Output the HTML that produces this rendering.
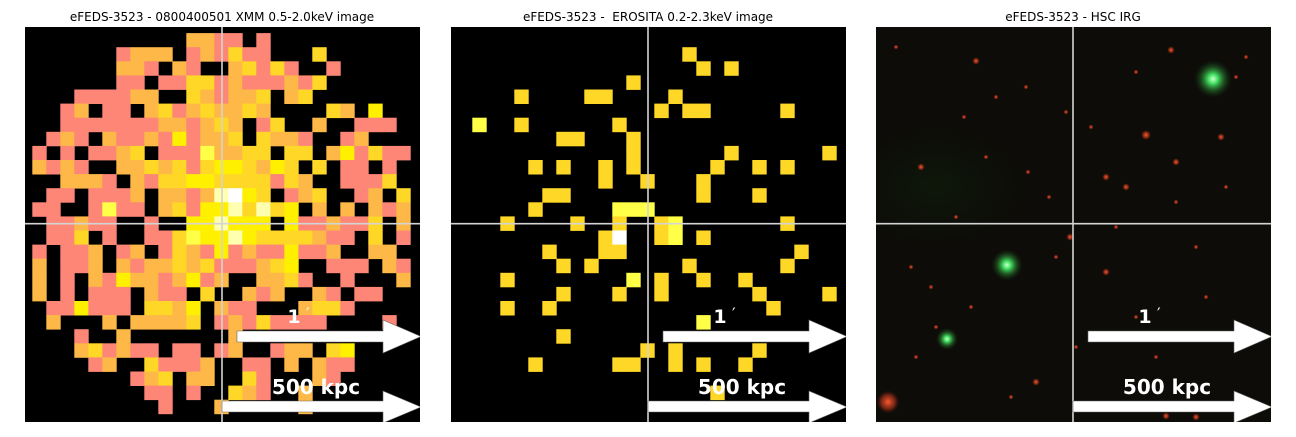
<!DOCTYPE html>
<html><head><meta charset="utf-8"><style>
html,body{margin:0;padding:0;background:#fff;}
svg text{font-family:"DejaVu Sans","Liberation Sans",sans-serif;}
</style></head><body>
<svg id="fig" width="1296" height="432" viewBox="0 0 1296 432" xmlns="http://www.w3.org/2000/svg">
<defs>
<radialGradient id="gGlow"><stop offset="0" stop-color="#d0ffd0"/><stop offset="0.25" stop-color="#40e060"/><stop offset="0.6" stop-color="#2a7a30" stop-opacity="0.6"/><stop offset="1" stop-color="#103010" stop-opacity="0"/></radialGradient>
<radialGradient id="rGlow"><stop offset="0" stop-color="#ff5a30"/><stop offset="0.6" stop-color="#a03018" stop-opacity="0.7"/><stop offset="1" stop-color="#401008" stop-opacity="0"/></radialGradient>
<radialGradient id="greenHaze"><stop offset="0" stop-color="#0f2a0c" stop-opacity="0.35"/><stop offset="1" stop-color="#0f2a0c" stop-opacity="0"/></radialGradient>
</defs>
<text x="222" y="21" font-size="12" text-anchor="middle" fill="#000">eFEDS-3523 - 0800400501 XMM 0.5-2.0keV image</text>
<text x="648" y="21" font-size="12" text-anchor="middle" fill="#000" xml:space="preserve">eFEDS-3523 -  EROSITA 0.2-2.3keV image</text>
<text x="1073" y="21" font-size="12" text-anchor="middle" fill="#000">eFEDS-3523 - HSC IRG</text>
<svg id="p1" x="25" y="27" width="395" height="395"><rect width="395" height="395" fill="#000"/><g id="p1cells"></g><g id="p1over"></g></svg>
<svg id="p2" x="451" y="27" width="395" height="395"><rect width="395" height="395" fill="#000"/><g id="p2cells"></g><g id="p2over"></g></svg>
<svg id="p3" x="876" y="27" width="395" height="395"><rect width="395" height="395" fill="#0d0c08"/><ellipse cx="60" cy="160" rx="90" ry="60" fill="url(#greenHaze)"/><g id="p3stars"></g><g id="p3over"></g></svg>
</svg>
<script>
// XMM counts map: level codes per pixel row (. black, s, o, g, y, Y, l, w)
const xmmRows = [
".............................",
"............ooss.s...........",
".......sooo.sosgss...g.......",
".......oos.os..ogsgs..s......",
".......ss.ssggsosssosg......",
"....ssssoo..gosoog.og........",
"...so.ss.ogsogoogo....go.y...",
"...sssssssoosogo.sg..o..sss..",
"..sos.ossosysoog.goos..so...",
".s.s.ssog.sssYoogg.gg.oysgss.",
".osos..oogogsgyygoyg.g.ss.s..",
"...ooos.osggyyggggsgo..sssg..",
"..ss.ssso.oosolwyg.sog..so.g.",
".ss..sYss.ogsyylglgy.o.o.oso.",
"..ssoss..s..yylyyy.yssossg.o.",
"..ssg.s..ssgYyylyggggoss.g.s..",
".s.sso.so.sgosysossysso..oo..",
".o.sso.osoogogsssogy..sss.os.",
".o.s.osyoosoyso..oogs..s...o.",
".o.s.sss.oss.g..oso..os.ss...",
"..ssysss.ggoy.oss...oggs.....",
"..o...o.oooog.sosgssss....s..",
"....s..o.......o.............",
"....ogsoss.ss.so..soo.gy.....",
".....so..gssso..ss.o.oss.....",
"........sog.oo..gs...os......",
".........ss.s..gos..o........",
"..........s...o.....o........",
"............................."
];
// eROSITA counts: [column, row, level]
const eroCols = [17,18,20,13,5,10,11,16,15,17,18,24,2,5,12,8,9,13,13,20,27,6,8,11,13,19,22,24,11,14,18,7,8,18,22,6,12,13,14,4,9,12,15,16,24,11,12,15,16,18,7,11,12,25,8,10,17,24,4,13,15,18,21,8,12,15,22,27,4,7,23,18,8,14,16,22,6,12,13,16,18,21,19];
const eroRows = [2,3,3,4,5,5,5,5,6,6,6,6,7,7,7,8,8,8,9,9,9,10,10,10,10,10,10,10,11,11,11,12,12,12,12,13,13,13,13,14,14,14,14,14,14,15,15,15,15,15,16,16,16,16,17,17,17,17,18,18,18,18,18,19,19,19,19,19,20,20,20,21,22,23,23,23,24,24,24,24,24,24,26];
const eroLevels = "ggggggggggggYgggggggggggggggggggggggYYYggggYggwgYggggggggggYgggggggggggYggggggggggg";
// HSC sources: x, y (panel px), radius, kind
const srcX = [337,131,71,295,100,45,173,152,194,250,270,370,230,55,12,290,210,160,260,330,300,20,120,320,280,240,60,360,190,345,35,215,135,88,400,110,80,180,230,300,350,260,150,40,200,370,320,95];
const srcY = [52,238,312,23,34,140,170,145,210,160,108,30,245,260,375,389,380,355,290,270,135,20,70,390,330,200,300,50,85,110,240,100,370,90,380,130,190,230,150,175,160,45,60,330,320,300,220,280];
const srcR = [12,10,7,3,3,3,2,2,3,3,4,2,3,2,9,3,2,3,2,2,3,2,2,3,2,2,2,2,2,3,2,2,2,2,3,2,2,2,3,2,2,2,2,2,2,2,2,2];
const srcKind = "ggg" + "rrrrrrrrrrrrrrrrrrrrrrrrrrrrrrrrrrrrrrrrrrrrr";

const colors = {s:"#fd8676",o:"#fdb847",g:"#ffd827",y:"#fff000",Y:"#ffff48",l:"#ffffb0",w:"#ffffff"};
const NS = "http://www.w3.org/2000/svg";
const pitchX = 14, pitchY = 14.1, offX = -6.7, offY = -8;
function colX(i){ return offX + i*pitchX; }
function rowY(j){ return offY + j*pitchY; }
function cell(g, i, j, lev){
  const r = document.createElementNS(NS,"rect");
  r.setAttribute("x", colX(i)); r.setAttribute("y", rowY(j));
  r.setAttribute("width", pitchX+0.4); r.setAttribute("height", pitchY+0.4);
  r.setAttribute("fill", colors[lev]);
  
  
  g.appendChild(r);
}
const g1 = document.getElementById("p1cells");
xmmRows.forEach((row, j) => { for (let i = 0; i < row.length; i++) { const c = row[i]; if (c !== ".") cell(g1, i, j, c); } });
const g2 = document.getElementById("p2cells");
for (let k = 0; k < eroCols.length; k++) cell(g2, eroCols[k], eroRows[k], eroLevels[k] || "g");
const g3 = document.getElementById("p3stars");
for (let k = 0; k < srcX.length; k++) {
  const c = document.createElementNS(NS,"circle");
  const green = srcKind[k] === "g";
  c.setAttribute("cx", srcX[k]); c.setAttribute("cy", srcY[k]);
  c.setAttribute("r", green ? srcR[k]*1.6 : srcR[k]*1.3);
  c.setAttribute("fill", green ? "url(#gGlow)" : "url(#rGlow)");
  
  
  g3.appendChild(c);
}
function overlay(id){
  const g = document.getElementById(id);
  g.innerHTML =
   '<line x1="197" y1="0" x2="197" y2="395" stroke="#d4d4d4" stroke-width="1.6"/>' +
   '<line x1="0" y1="196.7" x2="395" y2="196.7" stroke="#d4d4d4" stroke-width="1.6"/>' +
   '<polygon points="212,304 358,304 358,293 396,309.5 358,326 358,315 212,315" fill="#fff" stroke="#666" stroke-width="0.6"/>' +
   '<polygon points="197,374 358,374 358,364 396,380 358,396 358,385 197,385" fill="#fff" stroke="#666" stroke-width="0.6"/>' +
   '<text x="269" y="296" font-size="19" font-weight="bold" fill="#fff" text-anchor="middle">1</text>' +
   '<text x="281" y="292" font-size="16" fill="#fff">′</text>' +
   '<text x="291" y="367" font-size="20" font-weight="bold" fill="#fff" text-anchor="middle">500 kpc</text>';
  
  
}
overlay("p1over"); overlay("p2over"); overlay("p3over");
</script>
</body></html>
